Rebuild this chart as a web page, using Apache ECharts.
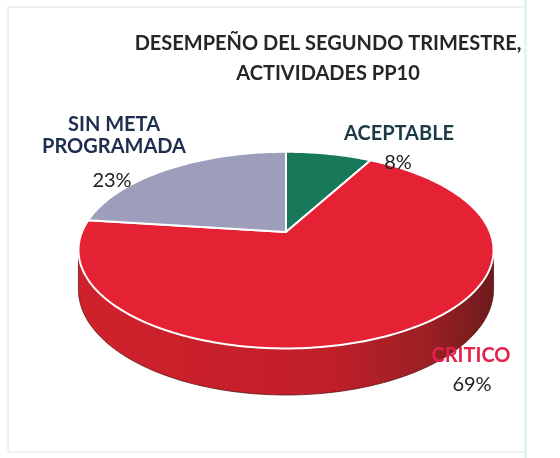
<!DOCTYPE html>
<html>
<head>
<meta charset="utf-8">
<script src="https://cdn.jsdelivr.net/npm/echarts@6/dist/echarts.min.js"></script>
<style>
  html, body { margin: 0; padding: 0; background: #fff; }
  #chart { width: 560px; height: 458px; }
</style>
</head>
<body>
<div id="chart"></div>
<script>
// datos del grafico
const categories = ['ACEPTABLE', 'CRITICO', 'SIN META\nPROGRAMADA'];
const values = [8, 69, 23];
const titleLines = ['DESEMPEÑO DEL SEGUNDO TRIMESTRE,', 'ACTIVIDADES PP10'];

// estilos
const topColors = ['#17795a', '#e52233', '#9d9ebb'];
const labelColors = ['#1b3a45', '#e3224c', '#1f2d4f'];
const labelPos = [[399, 134], [471, 356], [114, 136]];
const pctPos = [[398, 163], [472, 385], [112, 181]];

// geometria del pastel 3D (perspectiva simple)
const cx = 286, cy = 232, ra = 204, rb = 95, k = 0.184, depth = 38;
const total = values.reduce((p, n) => p + n, 0);
const tMin = Math.acos(-k), tMax = Math.PI * 2 - tMin;

function project (phi, drop) {
  const s = 1 / (1 + k * Math.cos(phi));
  return [cx + ra * Math.sin(phi) * s, cy - rb * Math.cos(phi) * s + drop * depth * s];
}
function arc (t0, t1, drop) {
  const pts = [];
  const n = Math.max(2, Math.ceil((t1 - t0) / 0.02));
  for (let i = 0; i <= n; i++) pts.push(project(t0 + (t1 - t0) * i / n, drop));
  return pts;
}

const myChart = echarts.init(document.getElementById('chart'));

const graphics = [
  { type: 'rect', z: 100, shape: { x: 8, y: 7, width: 517, height: 445 }, style: { fill: 'none', stroke: '#e2e2e2', lineWidth: 1 }, silent: true },
  { type: 'rect', z: 100, shape: { x: 524, y: 0, width: 3, height: 458 }, style: { fill: '#e3f4f4' }, silent: true },
  {
    type: 'text', z: 100, x: 328, y: 59,
    style: { text: titleLines.join('\n'), align: 'center', verticalAlign: 'middle', font: 'bold 20px Lato', fill: '#262626', lineHeight: 30 }
  }
];
categories.forEach((c, i) => {
  graphics.push({
    type: 'text', z: 100, x: labelPos[i][0], y: labelPos[i][1],
    style: { text: c, align: 'center', verticalAlign: 'middle', font: 'bold 20px Lato', fill: labelColors[i], lineHeight: 22 }
  });
  graphics.push({
    type: 'text', z: 100, x: pctPos[i][0], y: pctPos[i][1],
    style: { text: Math.round(values[i] / total * 100) + '%', align: 'center', verticalAlign: 'middle', font: '20px Lato', fill: '#222' }
  });
});

myChart.setOption({
  backgroundColor: '#fff',
  animation: false,
  graphic: graphics,
  series: [{
    type: 'custom',
    coordinateSystem: 'none',
    z: 2,
    data: values.map(v => [v]),
    renderItem: function (params, api) {
      const i = params.dataIndex;
      let before = 0;
      for (let j = 0; j < i; j++) before += values[j];
      const t0 = before / total * Math.PI * 2;
      const t1 = t0 + api.value(0) / total * Math.PI * 2;
      const children = [];
      // pared frontal
      const s0 = Math.max(t0, tMin), s1 = Math.min(t1, tMax);
      if (s1 > s0) {
        const pts = arc(s0, s1, 0).concat(arc(s0, s1, 1).reverse());
        children.push({
          type: 'polygon',
          shape: { points: pts },
          style: {
            fill: new echarts.graphic.LinearGradient(0, 0, 1, 0, [
              { offset: 0, color: '#d0212b' },
              { offset: 0.6, color: '#c11f29' },
              { offset: 0.85, color: '#992024' },
              { offset: 1, color: '#6c1a1c' }
            ]),
            stroke: '#5a1515', lineWidth: 0.8
          }
        });
      }
      // cara superior
      const top = [[cx, cy]].concat(arc(t0, t1, 0));
      children.push({
        type: 'polygon',
        shape: { points: top },
        style: { fill: topColors[i], stroke: '#ffffff', lineWidth: 2, lineJoin: 'round' }
      });
      return { type: 'group', children: children };
    }
  }]
});
window.addEventListener('resize', myChart.resize);
</script>
</body>
</html>
